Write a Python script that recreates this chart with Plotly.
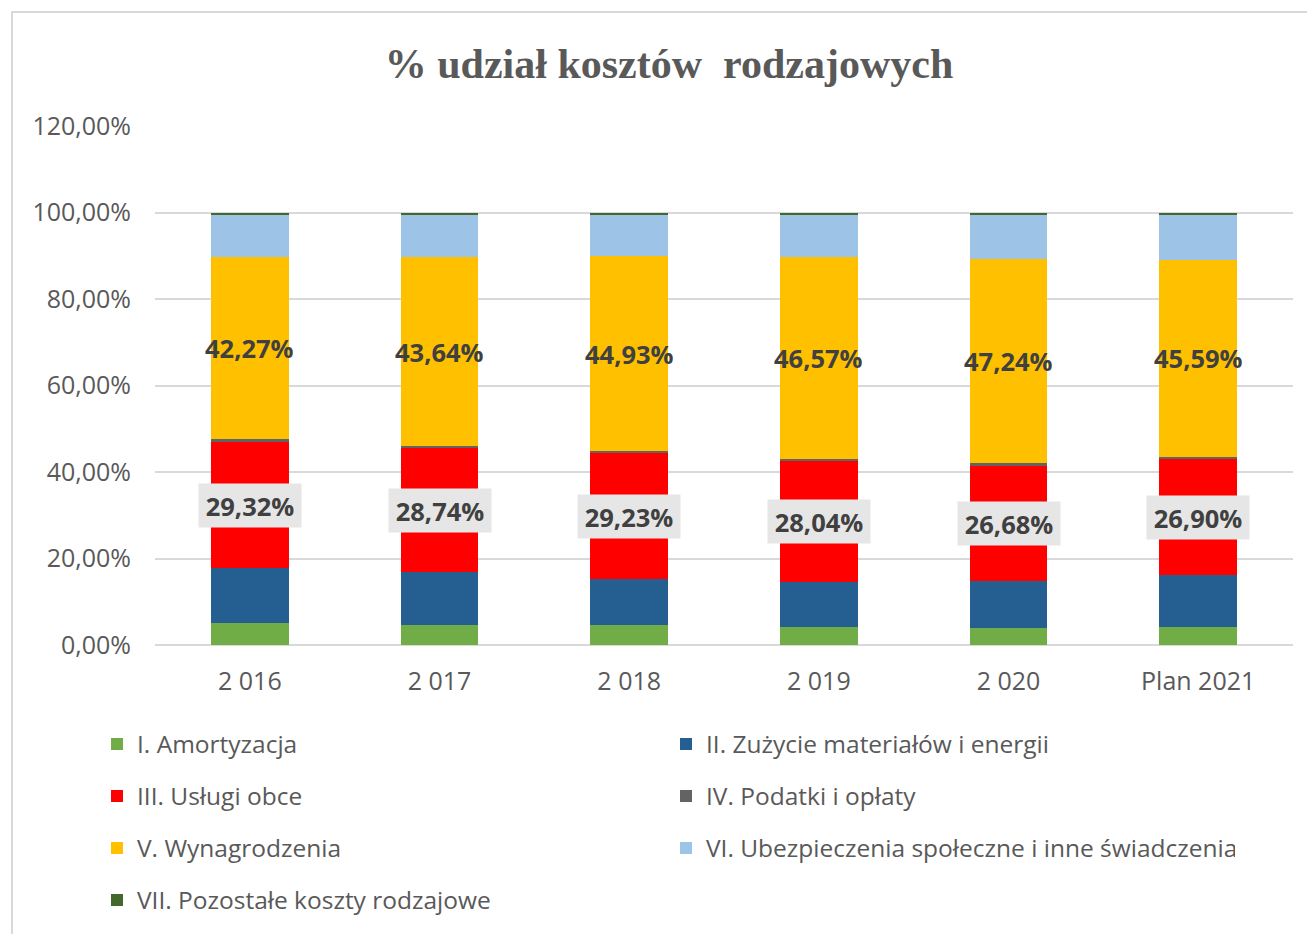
import plotly.graph_objects as go

# ---- data ----
categories = ["2 016", "2 017", "2 018", "2 019", "2 020", "Plan 2021"]
amortyzacja = [5.0, 4.6, 4.6, 4.2, 3.9, 4.2]
materialy = [12.7, 12.2, 10.6, 10.3, 10.9, 11.9]
uslugi_obce = [29.32, 28.74, 29.23, 28.04, 26.68, 26.90]
podatki = [0.5, 0.5, 0.5, 0.5, 0.5, 0.5]
wynagrodzenia = [42.27, 43.64, 44.93, 46.57, 47.24, 45.59]
ubezpieczenia = [9.81, 9.92, 9.74, 9.99, 10.38, 10.51]
pozostale = [0.4, 0.4, 0.4, 0.4, 0.4, 0.4]

series_names = [
    "I. Amortyzacja",
    "II. Zużycie materiałów i energii",
    "III. Usługi obce",
    "IV. Podatki i opłaty",
    "V. Wynagrodzenia",
    "VI. Ubezpieczenia społeczne i inne świadczenia",
    "VII. Pozostałe koszty rodzajowe",
]
series_values = [amortyzacja, materialy, uslugi_obce, podatki, wynagrodzenia, ubezpieczenia, pozostale]
series_colors = ["#70AD47", "#255E91", "#FF0000", "#636363", "#FFC000", "#9DC3E6", "#43682B"]
y_tick_values = [0, 20, 40, 60, 80, 100, 120]
y_tick_labels = ["0,00%", "20,00%", "40,00%", "60,00%", "80,00%", "100,00%", "120,00%"]

# ---- layout constants (figure coords; page adds 8px body margin) ----
OFF = 8
W, H = 1307, 926
ML, MR, MT, MB = 147, 22, 118, 289
plot_w = W - ML - MR
plot_h = H - MT - MB
TXT = "#595959"
FONT = "Open Sans"

fig = go.Figure()
legend_ids = ["legend", "legend", "legend2", "legend2", "legend3", "legend3", "legend4"]
for name, vals, col, lg in zip(series_names, series_values, series_colors, legend_ids):
    fig.add_trace(go.Bar(
        x=categories, y=vals, name=name,
        marker=dict(color=col, line=dict(width=0)),
        legend=lg, hoverinfo="skip",
    ))

def fmt(v):
    return f"{v:.2f}".replace(".", ",") + "%"

# data labels: centre of segments computed from cumulative stack
for i, cat in enumerate(categories):
    base_red = amortyzacja[i] + materialy[i]
    red_mid = base_red + uslugi_obce[i] / 2
    base_yel = base_red + uslugi_obce[i] + podatki[i]
    yel_mid = base_yel + wynagrodzenia[i] / 2
    fig.add_annotation(x=cat, y=red_mid, text=fmt(uslugi_obce[i]), showarrow=False,
                       font=dict(family=FONT, size=25.5, color="#404040", weight="bold"),
                       bgcolor="#E7E6E6", borderpad=5, width=92, height=33,
                       xanchor="center", yanchor="middle")
    fig.add_annotation(x=cat, y=yel_mid, text=fmt(wynagrodzenia[i]), showarrow=False,
                       font=dict(family=FONT, size=25.5, color="#404040", weight="bold"),
                       xanchor="center", yanchor="middle")

# screen pixel -> paper coords
def py(pix):
    return (MT + plot_h - (pix - OFF)) / plot_h

def px(pix):
    return (pix - OFF - ML) / plot_w

legend_common = dict(orientation="h", entrywidth=524, entrywidthmode="pixels",
                     font=dict(family=FONT, size=24.5, color=TXT), bgcolor="rgba(0,0,0,0)",
                     xanchor="left", yanchor="middle", traceorder="normal", x=px(97))
row_y = [744, 796, 848, 900]

fig.update_layout(
    width=W, height=H, autosize=False,
    margin=dict(l=ML, r=MR, t=MT, b=MB),
    paper_bgcolor="white", plot_bgcolor="white",
    barmode="stack", bargap=0.59,
    title=dict(text="% udział kosztów\u00a0 rodzajowych", x=(669 - OFF) / W, xref="container", xanchor="center",
               y=1 - (63 - OFF) / H, yref="container", yanchor="middle",
               font=dict(family="Liberation Serif", size=42, color=TXT, weight="bold")),
    xaxis=dict(type="category", showgrid=False, showline=False, ticks="",
               tickfont=dict(family=FONT, size=25, color=TXT), ticklabelstandoff=19),
    yaxis=dict(range=[0, 120], tickvals=y_tick_values, ticktext=y_tick_labels,
               showgrid=True, gridcolor="#D9D9D9", gridwidth=2, zeroline=True,
               zerolinecolor="#D9D9D9", zerolinewidth=2, showline=False, ticks="",
               tickfont=dict(family=FONT, size=25, color=TXT), ticklabelstandoff=23),
    legend=dict(**legend_common, y=py(row_y[0])),
    legend2=dict(**legend_common, y=py(row_y[1])),
    legend3=dict(**legend_common, y=py(row_y[2])),
    legend4=dict(**legend_common, y=py(row_y[3])),
    shapes=[dict(type="rect", xref="paper", yref="paper",
                 x0=px(12), x1=px(W + 40), y0=py(H + 40), y1=py(12),
                 line=dict(color="#D9D9D9", width=2), fillcolor="rgba(0,0,0,0)", layer="below")],
)

fig.write_html("out.html")
